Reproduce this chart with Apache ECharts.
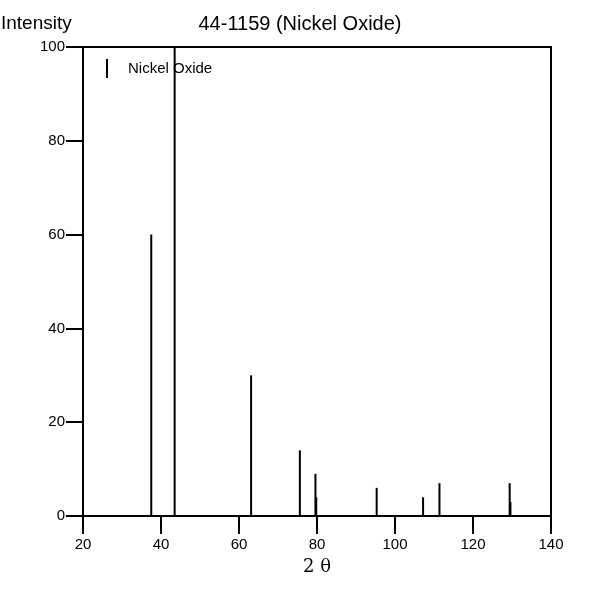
<!DOCTYPE html>
<html>
<head>
<meta charset="utf-8">
<script src="https://cdn.jsdelivr.net/npm/echarts@6/dist/echarts.min.js"></script>
<style>
  html, body { margin: 0; padding: 0; background: #fff; }
  #main { width: 600px; height: 600px; }
</style>
</head>
<body>
<div id="main"></div>
<script>
// peak positions (2 theta) and relative intensities
var twoTheta = [37.5, 43.5, 63.1, 75.6, 79.6, 79.8, 95.3, 107.2, 111.4, 129.4, 129.6];
var intensity = [60, 100, 30, 14, 9, 4, 6, 4, 7, 7, 3];
var xTicks = [20, 40, 60, 80, 100, 120, 140];
var yTicks = [0, 20, 40, 60, 80, 100];

var chartDom = document.getElementById('main');
var myChart = echarts.init(chartDom);

var peaks = [];
for (var i = 0; i < twoTheta.length; i++) {
  peaks.push([twoTheta[i], intensity[i]]);
}

var option = {
  animation: false,
  textStyle: { fontFamily: 'Liberation Sans, Arial, sans-serif' },
  title: [
    {
      text: '44-1159 (Nickel Oxide)',
      left: 'center',
      top: 9,
      textStyle: { fontSize: 20, fontWeight: 'normal', color: '#000' }
    },
    {
      text: 'Intensity',
      left: -4,
      top: 9,
      textStyle: { fontSize: 19, fontWeight: 'normal', color: '#000' }
    }
  ],
  legend: {
    left: 101,
    top: 54,
    itemWidth: 2,
    itemHeight: 19,
    icon: 'rect',
    textStyle: { fontSize: 15, color: '#000', padding: [0, 0, 0, 15] },
    data: ['Nickel Oxide']
  },
  grid: {
    left: 83,
    right: 49,
    top: 47,
    bottom: 84,
    show: true,
    borderColor: '#000',
    borderWidth: 2
  },
  xAxis: {
    type: 'value',
    min: xTicks[0],
    max: xTicks[xTicks.length - 1],
    interval: 20,
    name: '2 θ',
    nameLocation: 'middle',
    nameGap: 42,
    nameTextStyle: { fontFamily: 'DejaVu Serif, Liberation Serif, serif', fontSize: 18, color: '#000' },
    axisLine: { lineStyle: { color: '#000', width: 2 } },
    axisTick: { show: true, length: 18, lineStyle: { color: '#000', width: 2 } },
    axisLabel: { fontSize: 15, color: '#000', margin: 21 },
    splitLine: { show: false }
  },
  yAxis: {
    type: 'value',
    min: yTicks[0],
    max: yTicks[yTicks.length - 1],
    interval: 20,
    axisLine: { show: true, lineStyle: { color: '#000', width: 2 } },
    axisTick: { show: true, length: 17, lineStyle: { color: '#000', width: 2 } },
    axisLabel: { fontSize: 15, color: '#000', margin: 18 },
    splitLine: { show: false }
  },
  series: [
    {
      name: 'Nickel Oxide',
      type: 'custom',
      itemStyle: { color: '#000' },
      data: peaks,
      renderItem: function (params, api) {
        var base = api.coord([api.value(0), 0]);
        var top = api.coord([api.value(0), api.value(1)]);
        return {
          type: 'line',
          shape: { x1: base[0], y1: base[1], x2: top[0], y2: top[1] },
          style: { stroke: '#000', lineWidth: 2 }
        };
      }
    }
  ]
};
option && myChart.setOption(option);
</script>
</body>
</html>
